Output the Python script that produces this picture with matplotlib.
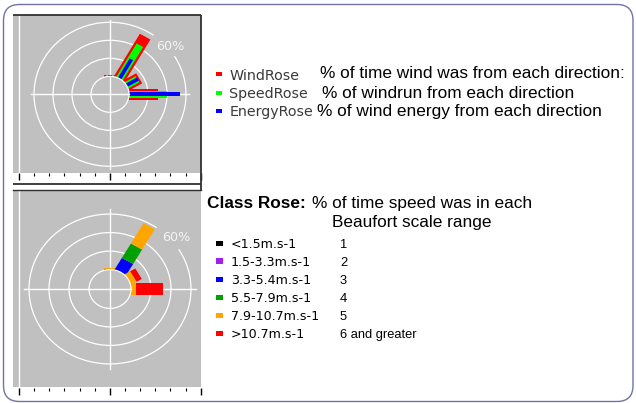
import math
import matplotlib
matplotlib.use("Agg")
import matplotlib.pyplot as plt
from matplotlib.patches import Rectangle, Circle, Arc, FancyBboxPatch
from matplotlib.transforms import Affine2D

# ---------------- data ----------------
directions = [0, 30, 60, 90, 120, 150, 180, 210, 240, 270, 300, 330]

# top rose (% values per direction)
wind_rose   = [1.0, 54.0, 15.5, 30.0, 0, 0, 0, 0, 0, 0, 0, 0]
speed_rose  = [1.0, 43.0, 13.5, 40.0, 0, 0, 0, 0, 0, 0, 0, 0]
energy_rose = [1.5, 25.0, 14.0, 54.0, 0, 0, 0, 0, 0, 0, 0, 0]

# class rose (% of time per speed class and direction)
class1 = [0, 0, 0, 0, 0, 0, 0, 0, 0, 0, 0, 0]
class2 = [0, 0, 0, 0, 0, 0, 0, 0, 0, 0, 0, 0]
class3 = [0, 14.0, 0, 0, 0, 0, 0, 0, 0, 0, 0, 0]
class4 = [0.6, 18.0, 0, 0, 0, 0, 0, 0, 0, 0, 0, 0]
class5 = [0.6, 25.5, 6.0, 5.2, 0, 0, 0, 0, 0, 0, 0, 0]
class6 = [0, 0, 6.0, 27.0, 0, 0, 0, 0, 0, 0, 0, 0]

ring_values = [0, 20, 40, 60]
ring_label = "60%"

top_names = ["WindRose", "SpeedRose", "EnergyRose"]
top_desc = ["% of time wind was from each direction:",
            "% of windrun from each direction",
            "% of wind energy from each direction"]
top_colors = ["#ff0000", "#00ff00", "#0000ff"]

class_labels = ["<1.5m.s-1", "1.5-3.3m.s-1", "3.3-5.4m.s-1",
                "5.5-7.9m.s-1", "7.9-10.7m.s-1", ">10.7m.s-1"]
beaufort_labels = ["1", "2", "3", "4", "5", "6 and greater"]
class_colors = ["#000000", "#a020f0", "#0000ff", "#00a000", "#ffa500", "#ff0000"]

# ---------------- figure ----------------
W, H = 636, 403
fig = plt.figure(figsize=(6.36, 4.03), dpi=100)
fig.patch.set_facecolor("white")

ax_bg = fig.add_axes([0, 0, 1, 1])
ax_bg.set_xlim(0, W)
ax_bg.set_ylim(H, 0)
ax_bg.axis("off")
ax_bg.add_patch(FancyBboxPatch((3.5, 4.5), 629.5, 397,
                               boxstyle="round,pad=0,rounding_size=16",
                               fc="white", ec="#7272aa", lw=1.0))

GRAY = "#c0c0c0"


def px_axes(x0, y0, x1, y1):
    return fig.add_axes([x0 / W, 1 - y1 / H, (x1 - x0) / W, (y1 - y0) / H])


def add_bar(ax, direction, r0, r1, width, color, z):
    rect = Rectangle((-width / 2, r0), width, r1 - r0, fc=color, ec="none",
                     zorder=z)
    rect.set_transform(Affine2D().rotate_deg(-direction) + ax.transData)
    ax.add_patch(rect)


def make_rose(box, center, scale, offset, cross, label_r):
    x0, y0, x1, y1 = box
    cx, cy = center
    sx, sy = scale
    ax = px_axes(x0, y0, x1, y1)
    ax.set_xlim(-(cx - x0) / sx, (x1 - cx) / sx)
    ax.set_ylim(-(y1 - cy) / sy, (cy - y0) / sy)
    ax.set_facecolor(GRAY)
    ax.set_xticks([])
    ax.set_yticks([])
    for s in ax.spines.values():
        s.set_visible(False)
    ax.axvline(-(cx - 19) / sx, color="white", lw=1.0, zorder=1)
    # crosshair
    ax.plot([-cross, cross], [0, 0], color="white", lw=1.0, zorder=1)
    ax.plot([0, 0], [-cross, cross], color="white", lw=1.0, zorder=1)
    # middle rings
    for v in ring_values[1:-1]:
        ax.add_patch(Circle((0, 0), offset + v, fill=False, ec="white",
                            lw=0.9, zorder=1))
    # outer ring with a gap for the label
    R = offset + ring_values[-1]
    ax.add_patch(Arc((0, 0), 2 * R, 2 * R, theta1=90 - 35, theta2=360 + 90 - 58,
                     ec="white", lw=0.9, zorder=1))
    a = math.radians(50)
    ax.text(label_r * math.sin(a), label_r * math.cos(a), ring_label,
            fontsize=9.2, color="#f4f4f4", ha="center", va="center",
            family="DejaVu Sans", zorder=6)
    return ax


def finish_rose(ax, offset):
    ax.add_patch(Circle((0, 0), offset, fc=GRAY, ec="white", lw=0.9, zorder=4))
    ax.plot([-offset, offset], [0, 0], color="white", lw=1.0, zorder=5)
    ax.plot([0, 0], [-offset, offset], color="white", lw=1.0, zorder=5)


# ---- top rose ----
OFF_T = 20
ax_t = make_rose((12.7, 15, 200.7, 172.7), (110, 94.3), (0.95, 0.9), OFF_T,
                 83, 82.5)
for vals, col, wdt, z in [(wind_rose, top_colors[0], 12.8, 2),
                          (speed_rose, top_colors[1], 8.0, 2.5),
                          (energy_rose, top_colors[2], 4.0, 3)]:
    for d, v in zip(directions, vals):
        if v > 0:
            add_bar(ax_t, d, 0, OFF_T + v, wdt, col, z)
finish_rose(ax_t, OFF_T)

# ---- bottom (class) rose ----
OFF_B = 21
ax_b = make_rose((12.7, 190.7, 200.7, 386.7), (110, 289), (1.0, 0.925), OFF_B,
                 86, 86)
classes = [class1, class2, class3, class4, class5, class6]
for i, d in enumerate(directions):
    cum = 0.0
    for cls, col in zip(classes, class_colors):
        v = cls[i]
        if v > 0:
            r0 = 0 if cum == 0 else OFF_B + cum
            add_bar(ax_b, d, r0, OFF_B + cum + v, 13.0, col, 2)
            cum += v
finish_rose(ax_b, OFF_B)


# ---- tick strips ----
def tick_strip(y_top):
    ax = px_axes(19, y_top - 1, 200.7, y_top)
    ax.set_xlim(0, 12)
    ax.set_ylim(0, 1)
    ax.patch.set_alpha(0)
    for s in ax.spines.values():
        s.set_visible(False)
    ax.set_xticks([0, 6, 12])
    ax.set_xticks(range(13), minor=True)
    ax.set_yticks([])
    ax.tick_params(axis="x", which="major", direction="out", length=5.3,
                   width=1.0, color="black", labelbottom=False)
    ax.tick_params(axis="x", which="minor", direction="out", length=2.0,
                   width=0.8, color="black")


tick_strip(173)
tick_strip(388)

# ---- frame lines (overlay) ----
ax_fg = fig.add_axes([0, 0, 1, 1])
ax_fg.set_xlim(0, W)
ax_fg.set_ylim(H, 0)
ax_fg.axis("off")
ax_fg.patch.set_alpha(0)
fr = dict(color="#303030", lw=1.3, solid_capstyle="butt")
ax_fg.plot([12.7, 201.3], [14.6, 14.6], **fr)
ax_fg.plot([201.3, 201.3], [14.6, 190], **fr)
ax_fg.plot([12.7, 201.3], [184.2, 184.2], **fr)
ax_fg.plot([12.7, 201.3], [190, 190], color="#303030", lw=1.0)

# ---- texts ----
name_y = [80, 97.7, 116]
desc_x = [320, 321.7, 316.7]
desc_y = [78.3, 97.7, 116]
sq_y = [71.7, 90.7, 108.7]
for nm, ds, col, ny, dx, dy, sy_ in zip(top_names, top_desc, top_colors,
                                         name_y, desc_x, desc_y, sq_y):
    ax_bg.add_patch(Rectangle((216, sy_), 5.7, 4.6, fc=col, ec="none"))
    ax_bg.text(229.3, ny, nm, fontsize=10.3, color="#3a3a3a",
               family="DejaVu Sans", va="baseline", ha="left")
    ax_bg.text(dx, dy, ds, fontsize=12.4, color="black",
               family="Liberation Sans", va="baseline", ha="left")

ax_bg.text(207.3, 207.7, "Class Rose:", fontsize=12.4, fontweight="bold",
           family="Liberation Sans", va="baseline", ha="left")
ax_bg.text(311.7, 207.7, "% of time speed was in each", fontsize=12.4,
           family="Liberation Sans", va="baseline", ha="left")
ax_bg.text(331.7, 226.7, "Beaufort scale range", fontsize=12.4,
           family="Liberation Sans", va="baseline", ha="left")

row_y = [243.3, 261, 279.3, 297.7, 315.7, 333.3]
for lab, bf, col, ry in zip(class_labels, beaufort_labels, class_colors, row_y):
    ax_bg.add_patch(Rectangle((216, ry - 2.6), 6.5, 5.2, fc=col, ec="none"))
    ax_bg.text(230.7, ry + 4.5, lab, fontsize=9.1, family="DejaVu Sans",
               color="black", va="baseline", ha="left")
    ax_bg.text(340, ry + 4.5, bf, fontsize=9.3, family="Liberation Sans",
               color="black", va="baseline", ha="left")

fig.savefig("out.png", dpi=100, facecolor="white")
